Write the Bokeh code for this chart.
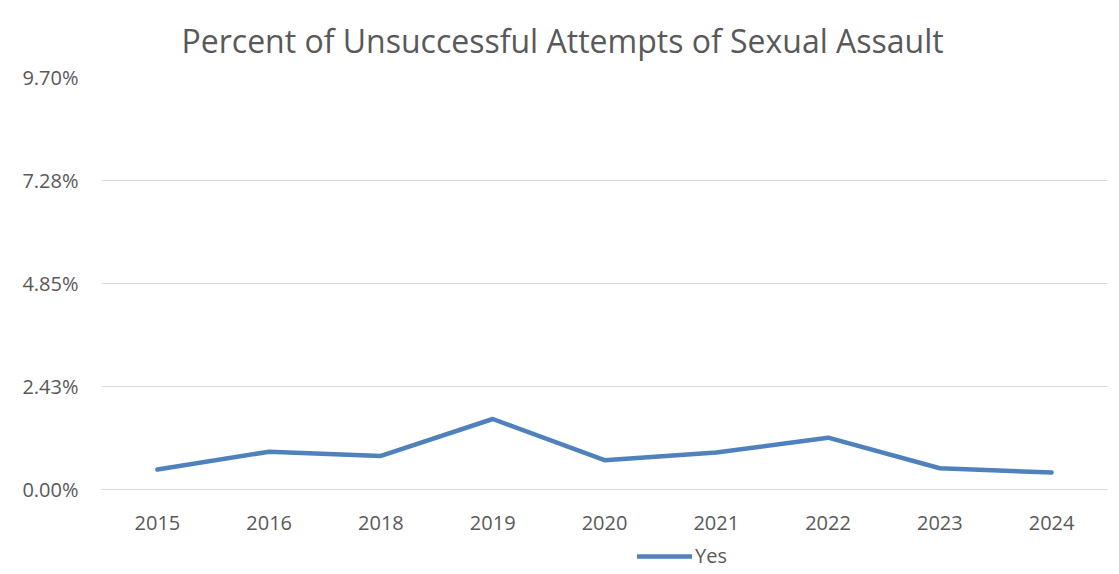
from bokeh.plotting import figure
from bokeh.models import FixedTicker, Legend, LegendItem
from bokeh.layouts import column
from bokeh.embed import file_html
from bokeh.resources import INLINE

title_text = "Percent of Unsuccessful Attempts of Sexual Assault"
years = ["2015", "2016", "2018", "2019", "2020", "2021", "2022", "2023", "2024"]
yes_pct = [0.47, 0.89, 0.79, 1.66, 0.69, 0.87, 1.22, 0.50, 0.40]
y_ticks = [0.0, 2.425, 4.85, 7.275, 9.70]
y_tick_labels = ["0.00%", "2.43%", "4.85%", "7.28%", "9.70%"]
series_name = "Yes"

FONT = "Open Sans"
GREY = "#595959"
LINE_COLOR = "#4F81BD"

p = figure(x_range=years, y_range=(0, 9.70), width=1112, height=536,
           output_backend="svg", toolbar_location=None,
           min_border_left=101, min_border_right=5, min_border_top=0, min_border_bottom=47)

p.title.text = title_text
p.title.align = "left"
p.title.offset = 80
p.title.text_font = FONT
p.title.text_font_size = "32px"
p.title.text_font_style = "normal"
p.title.text_color = GREY
p.title.standoff = 32

r = p.line(x=years, y=yes_pct, line_color=LINE_COLOR, line_width=4.5,
           line_join="round", line_cap="round")

p.outline_line_color = None
p.xgrid.grid_line_color = None
p.ygrid.grid_line_color = "#d9d9d9"
p.ygrid.grid_line_width = 1
p.yaxis.ticker = FixedTicker(ticks=y_ticks)
p.yaxis.major_label_overrides = {t: l for t, l in zip(y_ticks, y_tick_labels)}
p.yaxis.axis_line_color = None
p.yaxis.major_tick_line_color = None
p.yaxis.minor_tick_line_color = None
p.yaxis.major_label_standoff = 17
p.xaxis.axis_line_color = "#d9d9d9"
p.xaxis.major_tick_line_color = None
p.xaxis.minor_tick_line_color = None
p.xaxis.major_label_standoff = 20
for ax in (p.xaxis, p.yaxis):
    ax.major_label_text_font = FONT
    ax.major_label_text_font_size = "20px"
    ax.major_label_text_color = GREY

# legend strip below the chart (its line sits outside the strip's visible range)
lg = figure(width=1112, height=37, output_backend="svg", toolbar_location=None,
            x_range=(0, 1), y_range=(0, 1),
            min_border_left=0, min_border_right=0, min_border_top=0, min_border_bottom=0)
lg.axis.visible = False
lg.grid.visible = False
lg.outline_line_color = None
dummy = lg.line(x=[-10, -9], y=[-10, -9], line_color=LINE_COLOR, line_width=4.5,
                line_cap="round")
legend = Legend(items=[LegendItem(label=series_name, renderers=[dummy])],
                location=(536, 4), orientation="horizontal",
                border_line_color=None, background_fill_alpha=0,
                label_text_font=FONT, label_text_font_size="20px",
                label_text_color=GREY, glyph_width=55, label_standoff=3,
                padding=0, margin=0, spacing=0)
lg.add_layout(legend, "center")

layout = column(p, lg)
open("out.html", "w").write(file_html(layout, INLINE))
